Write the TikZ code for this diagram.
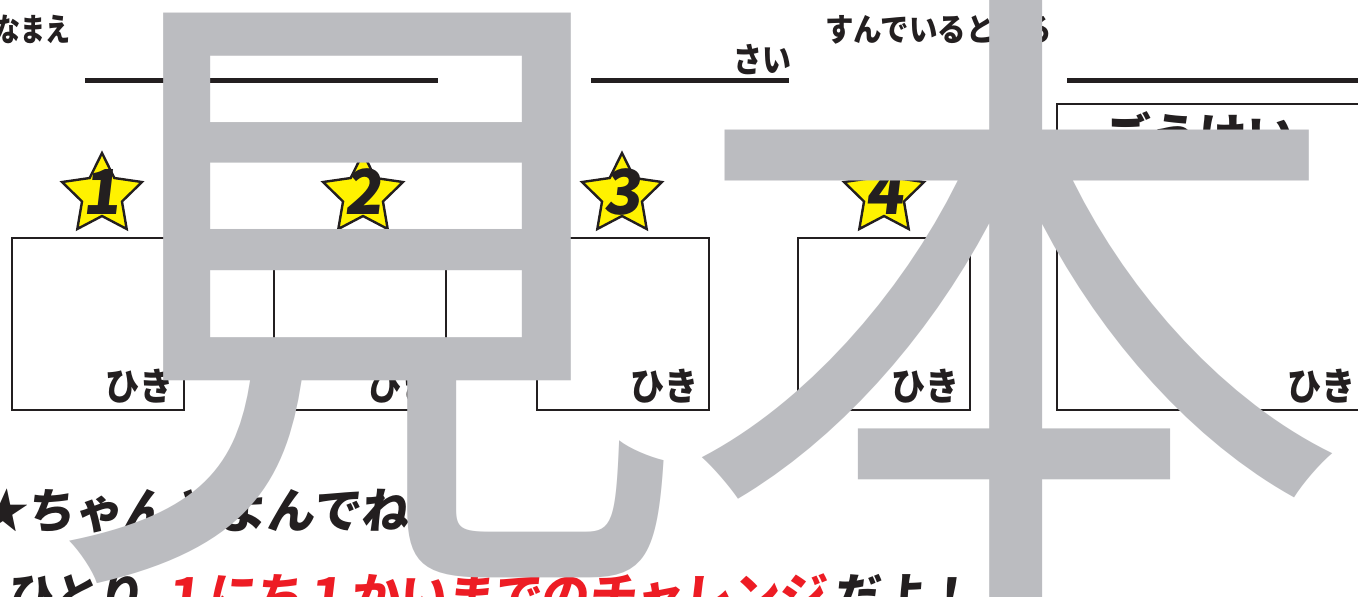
\documentclass[tikz,border=0pt]{standalone}
\usepackage{fontspec}
\usetikzlibrary{shapes.geometric}
\newfontfamily\jp{Noto Sans CJK JP}
\newfontfamily\jpsl{Noto Sans CJK JP}[FakeSlant=0.12]
\definecolor{ink}{HTML}{231F20}
\definecolor{stary}{HTML}{FFF200}
\definecolor{redt}{HTML}{ED1C24}
\definecolor{wmgrey}{HTML}{BBBCC0}
\newcommand{\sx}[2]{\scalebox{#1}[1]{#2}}
\begin{document}
\begin{tikzpicture}[x=0.5pt,y=-0.5pt,
  rule/.style={line width=2.5pt, draw=ink},
  entrybox/.style={draw=ink, line width=1.2pt, rectangle, inner sep=0pt, anchor=north west, minimum width=86pt, minimum height=86pt},
  starbox/.style={star, star points=5, star point ratio=2.0, draw=ink, fill=stary, line width=1.2pt, minimum size=42pt, inner sep=0pt},
  num/.style={font=\jpsl\bfseries\fontsize{31}{31}\selectfont, text=ink, inner sep=0pt, anchor=base},
  hiki/.style={font=\jp\bfseries\fontsize{19}{19}\selectfont, text=ink, inner sep=0pt, anchor=base east},
  head/.style={font=\jp\bfseries\fontsize{16}{16}\selectfont, text=ink, inner sep=0pt},
  big/.style={font=\jpsl\bfseries\fontsize{24}{24}\selectfont, inner sep=0pt, anchor=base west},
  watermark/.style={text=wmgrey, inner sep=0pt, anchor=base}
]
\useasboundingbox (0,0) rectangle (1358,596);
\clip (0,0) rectangle (1358,596);
\fill[white] (0,0) rectangle (1358,596);

% header texts and rules
\node[head, anchor=base east] (lname) at (71,41) {\sx{0.78}{おなまえ}};
\coordinate (r1a) at (85,80); \coordinate (r1b) at (438,80);
\draw[rule] (r1a) -- (r1b);
\coordinate (r2a) at (591,80); \coordinate (r2b) at (789,80);
\draw[rule] (r2a) -- (r2b);
\node[head, anchor=base east, font=\jp\bfseries\fontsize{17}{17}\selectfont] (lage) at (792,72) {\sx{0.85}{さい}};
\node[head, anchor=base west] (laddr) at (825,41) {\sx{0.89}{すんでいるところ}};
\coordinate (r3a) at (1067,80); \coordinate (r3b) at (1370,80);
\draw[rule] (r3a) -- (r3b);

% entry boxes
\node[entrybox] (b1) at (11,237) {};
\node[entrybox] (b2) at (273,237) {};
\node[entrybox] (b3) at (536,237) {};
\node[entrybox] (b4) at (797,237) {};
\node[entrybox, minimum width=160pt, minimum height=153pt] (b5) at (1056,103) {};

\node[hiki] (h1) at ([xshift=-5.5pt]b1.south east |- 0,400) {\sx{0.9}{ひき}};
\node[hiki] (h2) at ([xshift=-5.5pt]b2.south east |- 0,400) {\sx{0.9}{ひき}};
\node[hiki] (h3) at ([xshift=-5.5pt]b3.south east |- 0,400) {\sx{0.9}{ひき}};
\node[hiki] (h4) at ([xshift=-5.5pt]b4.south east |- 0,400) {\sx{0.9}{ひき}};
\node[hiki] (h5) at (1356,400) {\sx{0.9}{ひき}};
\node[font=\jp\bfseries\fontsize{25}{25}\selectfont, text=ink, inner sep=0pt, anchor=base west] (total) at (1103,155) {\sx{0.96}{ごうけい}};

% stars
\node[starbox] (s1) at (102,195) {};
\node[starbox] (s2) at (363,195) {};
\node[starbox] (s3) at (622,195) {};
\node[starbox] (s4) at (884,195) {};
\node[num] (n1) at (101,214) {1};
\node[num] (n2) at (363,214) {2};
\node[num] (n3) at (622,214) {3};
\node[num] (n4) at (884,214) {4};

% bottom lines
\node[big, text=ink] (t1) at (-22,528) {★ちゃんとよんでね！};
\node[big, text=ink] (t2a) at (6,613) {\sx{0.96}{ひとり}};
\node[big, text=redt] (t2b) at (160,613) {\sx{0.99}{１にち１かいまでのチャレンジ}};
\node[big, text=ink] (t2c) at (833,613) {\sx{0.96}{だよ！}};

% watermark
\node[watermark, font=\jp\fontsize{322}{322}\selectfont] (w1) at (366,531) {見};
\node[watermark, font=\jp\fontsize{335}{335}\selectfont] (w2) at (1016,551) {本};
\end{tikzpicture}
\end{document}
